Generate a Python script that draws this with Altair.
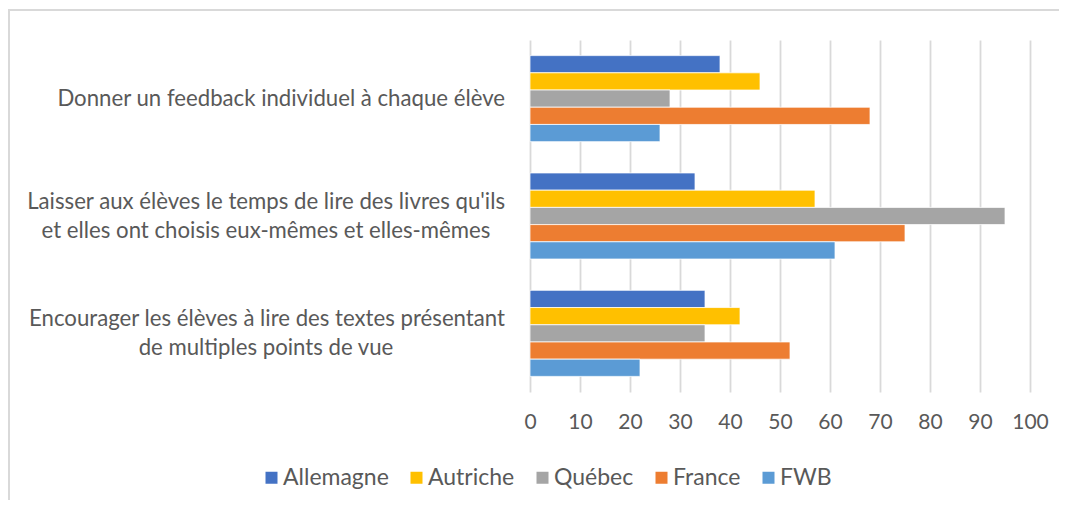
import altair as alt
import pandas as pd

cat_line1 = [
    "Donner un feedback individuel à chaque élève",
    "Laisser aux élèves le temps de lire des livres qu'ils",
    "Encourager les élèves à lire des textes présentant",
]
cat_line2 = [
    "",
    "et elles ont choisis eux-mêmes et elles-mêmes",
    "de multiples points de vue",
]
categories = [(a + " " + b).strip() for a, b in zip(cat_line1, cat_line2)]

series = ["Allemagne", "Autriche", "Québec", "France", "FWB"]
colors = ["#4472C4", "#FFC000", "#A5A5A5", "#ED7D31", "#5B9BD5"]

allemagne = [38, 33, 35]
autriche = [46, 57, 42]
quebec = [28, 95, 35]
france = [68, 75, 52]
fwb = [26, 61, 22]

x_ticks = [0, 10, 20, 30, 40, 50, 60, 70, 80, 90, 100]

values = {"Allemagne": allemagne, "Autriche": autriche, "Québec": quebec,
          "France": france, "FWB": fwb}
rows = []
for s in series:
    for c, v in zip(categories, values[s]):
        rows.append({"cat": c, "series": s, "value": v})
df = pd.DataFrame(rows)

df_lab = pd.DataFrame({"cat": categories, "line1": cat_line1, "line2": cat_line2})

FONT = "Lato"
TXT = "#595959"
LAB_SIZE = 22.2

yscale = alt.Scale(paddingInner=0.267, paddingOuter=0.133)
ycat = alt.Y("cat:N", sort=categories, scale=yscale)

bars = alt.Chart(df).mark_bar(stroke="white", strokeWidth=0.75).encode(
    x=alt.X("value:Q", scale=alt.Scale(domain=[0, 100], nice=False),
            axis=alt.Axis(values=x_ticks, title=None, grid=True, gridColor="#d9d9d9",
                          gridWidth=1.8, domain=False, ticks=False, labelPadding=19,
                          labelFlush=False, labelOverlap=False,
                          labelFontSize=21, labelColor=TXT, labelFont=FONT)),
    y=alt.Y("cat:N", sort=categories, scale=yscale,
            axis=alt.Axis(title=None, domain=False, ticks=False, labels=False)),
    yOffset=alt.YOffset("series:N", sort=series, scale=alt.Scale(paddingInner=0, paddingOuter=0)),
    color=alt.Color("series:N", sort=series,
                    scale=alt.Scale(domain=series, range=colors),
                    legend=alt.Legend(title=None, orient="none", legendX=-270, legendY=426,
                                      direction="horizontal", symbolType="square",
                                      symbolSize=144, symbolStrokeWidth=0,
                                      labelFontSize=23, labelColor=TXT, labelFont=FONT,
                                      labelOffset=0, columnPadding=16)),
)

base_lab = alt.Chart(df_lab)
lab_single = base_lab.transform_filter("datum.line2 == ''").mark_text(
    align="right", baseline="middle", fontSize=LAB_SIZE, color=TXT, font=FONT).encode(
    y=ycat, x=alt.value(-25), text="line1:N")
lab_top = base_lab.transform_filter("datum.line2 != ''").mark_text(
    align="right", baseline="middle", dy=-14.5, fontSize=LAB_SIZE, color=TXT, font=FONT).encode(
    y=ycat, x=alt.value(-25), text="line1:N")
lab_bottom = base_lab.transform_filter("datum.line2 != ''").mark_text(
    align="center", baseline="middle", dy=14.5, fontSize=LAB_SIZE, color=TXT, font=FONT).encode(
    y=ycat, x=alt.value(-264), text="line2:N")

border_left = alt.Chart(pd.DataFrame({"k": [0]})).mark_rule(color="#d9d9d9", strokeWidth=2).encode(
    x=alt.value(-521), y=alt.value(-30), y2=alt.value(470))
border_top = alt.Chart(pd.DataFrame({"k": [0]})).mark_rule(color="#d9d9d9", strokeWidth=2).encode(
    x=alt.value(-522), x2=alt.value(540), y=alt.value(-30))

chart = alt.layer(bars, lab_single, lab_top, lab_bottom, border_left, border_top).properties(
    width=500, height=352,
    autosize=alt.AutoSizeParams(type="none"),
    padding={"left": 522, "top": 32, "right": 29, "bottom": 108},
    background="white",
).configure_view(stroke=None)

chart.save("out.html", embed_options={"renderer": "svg", "actions": False})
